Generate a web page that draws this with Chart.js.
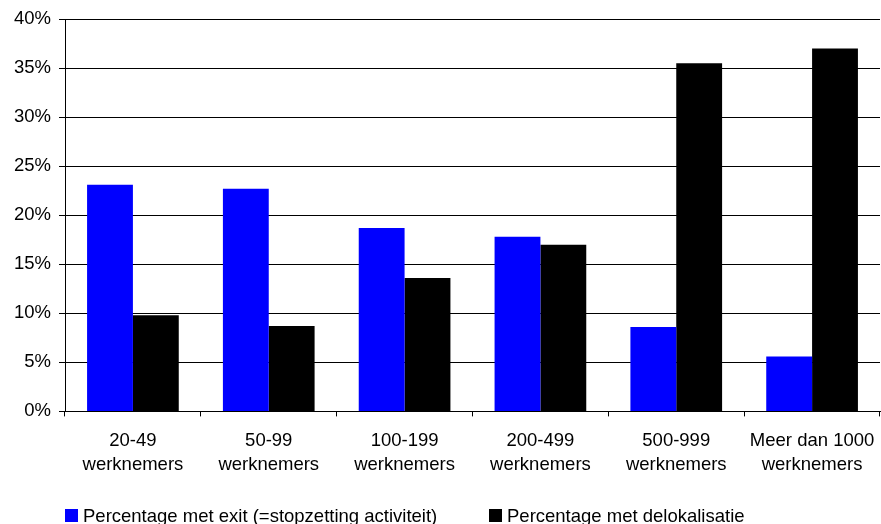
<!DOCTYPE html>
<html>
<head>
<meta charset="utf-8">
<script src="https://cdn.jsdelivr.net/npm/chart.js@4"></script>
<style>
  html, body { margin: 0; padding: 0; background: #fff; }
  #wrap { width: 881px; height: 524px; }
</style>
</head>
<body>
<div id="wrap"><canvas id="c" width="881" height="524"></canvas></div>
<script>
const categories = [
  ["20-49", "werknemers"],
  ["50-99", "werknemers"],
  ["100-199", "werknemers"],
  ["200-499", "werknemers"],
  ["500-999", "werknemers"],
  ["Meer dan 1000", "werknemers"]
];
const exitValues = [23.1, 22.7, 18.7, 17.8, 8.6, 5.6];
const delokValues = [9.8, 8.7, 13.6, 17.0, 35.5, 37.0];
const seriesLabels = ["Percentage met exit (=stopzetting activiteit)", "Percentage met delokalisatie"];
const yTicks = [0, 5, 10, 15, 20, 25, 30, 35, 40];

const FONT = "'Liberation Sans', Arial, sans-serif";

const customLegend = {
  id: 'customLegend',
  afterDraw(chart) {
    const ctx = chart.ctx;
    const xs = [65, 489];
    const yc = 515.5;
    ctx.save();
    ctx.font = "18.5px " + FONT;
    ctx.textBaseline = 'middle';
    ctx.textAlign = 'left';
    chart.data.datasets.forEach((ds, i) => {
      ctx.fillStyle = ds.backgroundColor;
      ctx.fillRect(xs[i], yc - 6.5, 13, 13);
      ctx.fillStyle = '#000';
      ctx.fillText(ds.label, xs[i] + 18, yc + 1);
    });
    ctx.restore();
  }
};

new Chart(document.getElementById('c'), {
  type: 'bar',
  data: {
    labels: categories,
    datasets: [
      { label: seriesLabels[0], data: exitValues, backgroundColor: '#0000FF', borderWidth: 0,
        categoryPercentage: 0.675, barPercentage: 1.0 },
      { label: seriesLabels[1], data: delokValues, backgroundColor: '#000000', borderWidth: 0,
        categoryPercentage: 0.675, barPercentage: 1.0 }
    ]
  },
  options: {
    responsive: false,
    animation: false,
    devicePixelRatio: 1,
    layout: { padding: { left: 0, right: 1, top: 19, bottom: 35.5 } },
    plugins: {
      legend: { display: false },
      tooltip: { enabled: false }
    },
    scales: {
      x: {
        offset: true,
        afterFit: (s) => { s.paddingLeft = 0; s.paddingRight = 0; },
        grid: { display: true, drawOnChartArea: false, drawTicks: true, tickLength: 5, color: '#000', offset: true },
        border: { display: true, color: '#000', width: 1 },
        ticks: { color: '#000', padding: 12, maxRotation: 0, autoSkip: false,
          font: { family: FONT, size: 18.5, lineHeight: 1.3 } }
      },
      y: {
        min: 0, max: 40,
        afterBuildTicks: (s) => { s.ticks = yTicks.map(v => ({ value: v })); },
        afterFit: (s) => { s.width = 65; },
        grid: { color: '#000', lineWidth: 1, drawTicks: true, tickLength: 6 },
        border: { display: true, color: '#000', width: 1 },
        ticks: { color: '#000', padding: 8, callback: (v) => v + '%',
          font: { family: FONT, size: 18.5 } }
      }
    }
  },
  plugins: [customLegend]
});
</script>
</body>
</html>
